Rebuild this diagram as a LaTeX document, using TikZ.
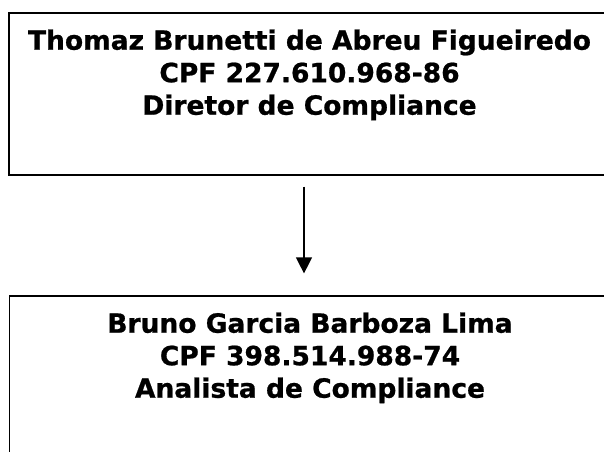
\documentclass[tikz,border=0pt]{standalone}
\usepackage{fontspec}
\setmainfont[BoldFeatures={FakeBold=0.8}]{DejaVu Sans}
\usetikzlibrary{positioning, arrows.meta}

\tikzset{
  rolebox/.style={draw, line width=1.2pt, minimum width=601pt, minimum height=162pt, inner sep=0pt},
  nametext/.style={align=center, inner sep=0pt, font=\bfseries\fontsize{26.5}{32.5}\selectfont},
}

\begin{document}
\begin{tikzpicture}[x=1pt,y=1pt]
        \useasboundingbox (0,0) rectangle (604,451);
        \clip (0,0) rectangle (604,451);
        % Director
        \node[rolebox] (director) at (309.5,357) {};
        \node[nametext, below=17pt of director.north] (directorname) {Thomaz Brunetti de Abreu Figueiredo\\CPF 227.610.968-86\\Diretor de Compliance};
        % Analyst
        \node[rolebox] (analyst) at (310,74) {};
        \node[nametext, below=17pt of analyst.north] (analystname) {Bruno Garcia Barboza Lima\\CPF 398.514.988-74\\Analista de Compliance};
        % Report line
        \draw[line width=1.2pt, -{Triangle[width=16pt,length=16pt]}, shorten <=11pt, shorten >=22pt] ([xshift=-5.5pt]director.south) -- ([xshift=-6pt]analyst.north);
      \end{tikzpicture}
\end{document}
